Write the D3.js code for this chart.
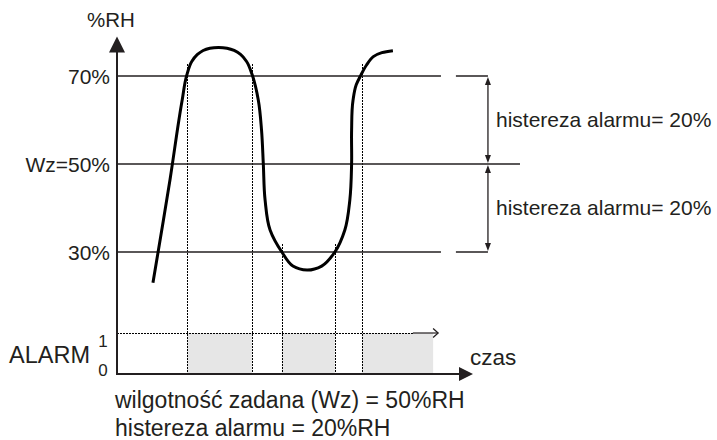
<!DOCTYPE html>
<html>
<head>
<meta charset="utf-8">
<script src="https://cdn.jsdelivr.net/npm/d3@7"></script>
<style>
  body { margin: 0; background: #fff; }
  svg { display: block; font-family: "Liberation Sans", Arial, sans-serif; }
</style>
</head>
<body>
<svg id="chart" width="717" height="440"></svg>
<script>
// humidity curve, time in arbitrary units (0..100), value in %RH
var curveT  = [10.1, 14.9, 18.3, 19.6, 21.0, 22.6, 24.2, 28.5, 32.9, 34.7, 36.4, 38.0, 39.7, 40.6,
               41.1, 41.6, 43.0, 46.3, 49.4, 53.4, 57.5, 61.2, 64.0, 65.4, 65.9, 65.9, 66.3, 67.2,
               68.5, 70.1, 72.0, 74.4, 77.5];
var curveRH = [23.0, 46.5, 64.5, 70.2, 73.3, 74.9, 75.8, 76.5, 75.8, 74.9, 73.3, 70.2, 64.5, 57.7,
               50.0, 41.8, 35.0, 30.0, 26.8, 25.9, 26.8, 30.0, 35.0, 41.8, 50.0, 57.7, 64.5, 68.0,
               70.2, 72.5, 74.4, 75.3, 75.75];

// set point and alarm thresholds
var levels = [70, 50, 30];
var levelLabels = ['70%', 'Wz=50%', '30%'];

// moments the curve crosses the thresholds
var cross70 = [19.7, 37.9, 68.8];
var cross30 = [46.3, 61.2];

// alarm on (1) intervals
var alarmOn = [[19.7, 37.9], [46.3, 61.2], [68.8, 88.8]];

var hystPairs = [[70, 50], [50, 30]];
var hystLabel = 'histereza alarmu= 20%';
var notes = ['wilgotność zadana (Wz) = 50%RH', 'histereza alarmu = 20%RH'];

var ink = '#231f20';
var svg = d3.select('#chart');

var x = d3.scaleLinear().domain([0, 100]).range([117, 473]);
var y = d3.scaleLinear().domain([30, 70]).range([252, 76]);
var ya = d3.scaleLinear().domain([0, 1]).range([374, 333]);

function tri(points) {
    svg.append('path')
        .attr('d', 'M' + points.map(function (p) { return p.join(','); }).join('L') + 'Z')
        .attr('fill', ink);
}

// alarm bars
svg.selectAll('rect.alarm').data(alarmOn).enter().append('rect')
    .attr('class', 'alarm')
    .attr('x', function (d) { return x(d[0]); })
    .attr('width', function (d) { return x(d[1]) - x(d[0]); })
    .attr('y', ya(1))
    .attr('height', ya(0) - ya(1))
    .attr('fill', '#e6e6e6');

// dotted guides down from the crossings
function guide(t, top) {
    var gx = Math.round(x(t)) + 0.5;
    svg.append('line')
        .attr('x1', gx).attr('x2', gx)
        .attr('y1', y(top)).attr('y2', ya(0))
        .attr('stroke', '#000').attr('stroke-width', 1.4)
        .attr('stroke-dasharray', '1.5,1.5')
        .attr('shape-rendering', 'crispEdges');
}
cross70.forEach(function (t) { guide(t, 72.7); });
cross30.forEach(function (t) { guide(t, 31.8); });

// alarm "1" level line with open arrow
svg.append('line')
    .attr('x1', x(0)).attr('x2', x(83.1))
    .attr('y1', ya(1) + 0.5).attr('y2', ya(1) + 0.5)
    .attr('stroke', '#000').attr('stroke-width', 1.4)
    .attr('stroke-dasharray', '1.5,1.5')
    .attr('shape-rendering', 'crispEdges');
svg.append('line')
    .attr('x1', x(83.1)).attr('x2', x(90.2))
    .attr('y1', ya(1)).attr('y2', ya(1))
    .attr('stroke', ink).attr('stroke-width', 1.2);
svg.append('path')
    .attr('d', 'M' + (x(90.2) - 5) + ',' + (ya(1) - 4.5) + 'L' + x(90.2) + ',' + ya(1) + 'L' + (x(90.2) - 5) + ',' + (ya(1) + 4.5))
    .attr('fill', 'none').attr('stroke', ink).attr('stroke-width', 1.3);

// threshold lines
svg.selectAll('line.level').data(levels).enter().append('line')
    .attr('class', 'level')
    .attr('x1', x(0))
    .attr('x2', function (d) { return d === 50 ? x(113.2) : x(91.0); })
    .attr('y1', y).attr('y2', y)
    .attr('stroke', ink).attr('stroke-width', 1.6);
[70, 30].forEach(function (v) {
    svg.append('line')
        .attr('x1', x(95.2)).attr('x2', x(104.2))
        .attr('y1', y(v)).attr('y2', y(v))
        .attr('stroke', ink).attr('stroke-width', 1.6);
});

svg.selectAll('text.level').data(levels).enter().append('text')
    .attr('class', 'level')
    .attr('x', 110)
    .attr('y', function (d) { return y(d) + 8; })
    .attr('text-anchor', 'end')
    .attr('font-size', 21)
    .attr('fill', ink)
    .text(function (d, i) { return levelLabels[i]; });

// hysteresis arrows
hystPairs.forEach(function (p) {
    var ax = x(104.2), y1 = y(p[0]) + 1, y2 = y(p[1]) - 1;
    svg.append('line')
        .attr('x1', ax).attr('x2', ax).attr('y1', y1 + 6).attr('y2', y2 - 6)
        .attr('stroke', ink).attr('stroke-width', 1.3);
    tri([[ax, y1], [ax - 3, y1 + 8], [ax + 3, y1 + 8]]);
    tri([[ax, y2], [ax - 3, y2 - 8], [ax + 3, y2 - 8]]);
    svg.append('text')
        .attr('x', 496)
        .attr('y', (y(p[0]) + y(p[1])) / 2 + 7)
        .attr('font-size', 21)
        .attr('fill', ink)
        .text(hystLabel);
});

// humidity curve
var line = d3.line()
    .x(function (d) { return x(d[0]); })
    .y(function (d) { return y(d[1]); })
    .curve(d3.curveCatmullRom.alpha(1));
svg.append('path')
    .datum(curveT.map(function (t, i) { return [t, curveRH[i]]; }))
    .attr('d', line)
    .attr('fill', 'none')
    .attr('stroke', '#000')
    .attr('stroke-width', 3);

// axes
svg.append('line')
    .attr('x1', x(0)).attr('x2', x(0))
    .attr('y1', ya(0) + 1).attr('y2', y(79) + 14)
    .attr('stroke', ink).attr('stroke-width', 2);
tri([[x(0), y(79)], [x(0) - 8, y(79) + 16], [x(0) + 8, y(79) + 16]]);

svg.append('line')
    .attr('x1', x(0) - 1).attr('x2', x(100) - 12)
    .attr('y1', ya(0)).attr('y2', ya(0))
    .attr('stroke', ink).attr('stroke-width', 2);
tri([[x(100), ya(0)], [x(100) - 14, ya(0) - 7], [x(100) - 14, ya(0) + 7]]);

// axis texts
svg.append('text').attr('x', 111).attr('y', 27).attr('text-anchor', 'middle')
    .attr('font-size', 20.5).attr('fill', ink).text('%RH');
svg.append('text').attr('x', 470).attr('y', 365)
    .attr('font-size', 22.5).attr('fill', ink).text('czas');
svg.append('text').attr('x', 9).attr('y', 363)
    .attr('font-size', 23.5).attr('fill', ink).text('ALARM');
svg.append('text').attr('x', 103).attr('y', ya(1) + 14).attr('text-anchor', 'middle')
    .attr('font-size', 17).attr('fill', ink).text('1');
svg.append('text').attr('x', 103).attr('y', ya(0) + 2).attr('text-anchor', 'middle')
    .attr('font-size', 17).attr('fill', ink).text('0');

svg.selectAll('text.note').data(notes).enter().append('text')
    .attr('class', 'note')
    .attr('x', 115)
    .attr('y', function (d, i) { return 408 + i * 27.5; })
    .attr('font-size', 23)
    .attr('fill', ink)
    .text(function (d) { return d; });
</script>
</body>
</html>
